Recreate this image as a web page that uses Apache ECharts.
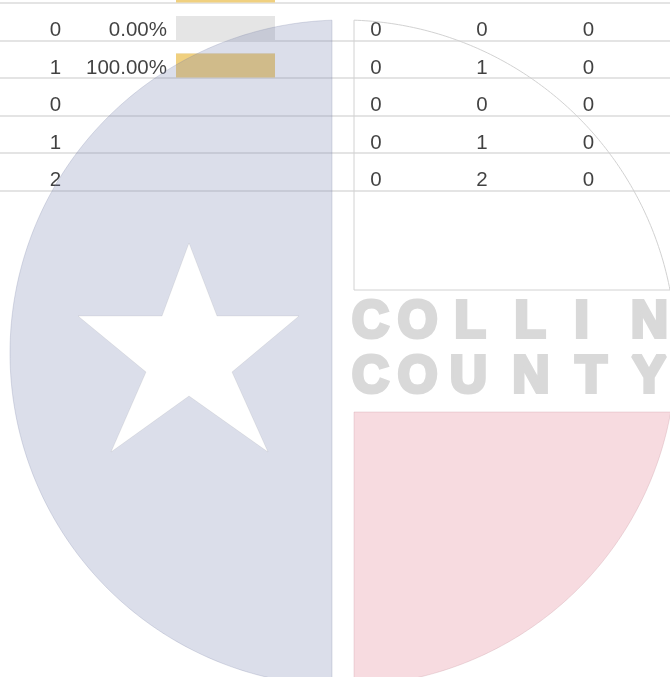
<!DOCTYPE html>
<html><head><meta charset="utf-8">
<script src="https://cdn.jsdelivr.net/npm/echarts/dist/echarts.min.js"></script>
<style>html,body{margin:0;padding:0;background:#fff}#c{width:670px;height:677px}</style>
</head><body><div id="c"></div>
<script>
// ---- data ----
// row 0 is the partially visible row cut off at the top edge
const rowIndex = [1, 2, 3, 4, 5];
const colA = [0, 1, 0, 1, 2];
const pctText = ['0.00%', '100.00%'];
const barRows = [0, 1, 2];
const barShares = [100, 0, 100];
const colC = [0, 0, 0, 0, 0];
const colD = [0, 1, 0, 1, 2];
const colE = [0, 0, 0, 0, 0];
const wordTop = ['C', 'O', 'L', 'L', 'I', 'N'];
const wordBottom = ['C', 'O', 'U', 'N', 'T', 'Y'];

// ---- layout ----
const H = 677, ROW = 37.5;
const span = H / ROW;
const textMin = 0.1866, barMin = 0.2533;
const colX = { A: 55.5, B: 167, C: 376, D: 482, E: 588.5 };
const textColor = '#111111';
const fam = '"Liberation Sans", Arial, Helvetica, sans-serif';
const fs = 20.5;

function textSeries(vals, x, pos) {
  return {
    type: 'scatter', xAxisIndex: 1, yAxisIndex: 1, symbolSize: 0, silent: true,
    data: vals.map((v, i) => [x, rowIndex[i], v]),
    label: { show: true, position: pos, distance: 0, formatter: p => String(p.value[2]),
      color: textColor, fontSize: fs, fontFamily: fam }
  };
}

// ---- watermark geometry ----
const cx = 343, cy = 353, R = 333;
const deg = Math.PI / 180;
function arc(t0, t1, n) {
  const pts = [];
  for (let i = 0; i <= n; i++) {
    const t = (t0 + (t1 - t0) * i / n) * deg;
    pts.push([cx + R * Math.cos(t), cy + R * Math.sin(t)]);
  }
  return pts;
}
const tL = Math.acos(-11 / R) / deg;
const leftPts = arc(tL, 360 - tL, 200);
const tR = Math.acos(11 / R) / deg;
const tTopEnd = Math.asin((290 - cy) / R) / deg;
const topRightPts = [[354, 290]].concat(arc(-tR, tTopEnd, 120));
const tPinkStart = Math.asin((412 - cy) / R) / deg;
const pinkPts = [[354, 412]].concat(arc(tPinkStart, tR, 120));
const starPts = [[189,243],[217,316],[299,316],[232,372],[268,452],[189,396],[111,452],[146,372],[78,316],[162,316]];
const topX = [370.5, 417.5, 470, 530, 581.5, 649.5];
const botX = [370.5, 417.5, 468.5, 531, 591, 649];

const graphics = [
  { type: 'polygon', z: 100, silent: true, shape: { points: leftPts },
    style: { fill: 'rgba(110,123,172,0.25)', stroke: 'rgba(120,128,165,0.25)', lineWidth: 1 } },
  { type: 'polygon', z: 101, silent: true, shape: { points: starPts },
    style: { fill: '#ffffff', stroke: 'rgba(0,0,0,0.06)', lineWidth: 1 } },
  { type: 'polygon', z: 100, silent: true, shape: { points: topRightPts },
    style: { fill: 'rgba(0,0,0,0)', stroke: '#d2d2d2', lineWidth: 1 } },
  { type: 'polygon', z: 100, silent: true, shape: { points: pinkPts },
    style: { fill: 'rgba(223,111,131,0.25)', stroke: 'rgba(200,150,160,0.3)', lineWidth: 1 } }
];
function letter(ch, x, y) {
  return { type: 'text', z: 100, silent: true, x: x, y: y,
    style: { text: ch, fill: '#d9d9d9', stroke: '#d9d9d9', lineWidth: 4, lineJoin: 'miter', fontSize: 51, fontWeight: 'bold',
      fontFamily: fam, textAlign: 'center', textVerticalAlign: 'middle' } };
}
wordTop.forEach((ch, i) => graphics.push(letter(ch, topX[i], 323)));
wordBottom.forEach((ch, i) => graphics.push(letter(ch, botX[i], 377.5)));

const chart = echarts.init(document.getElementById('c'), null, { renderer: 'canvas' });
chart.setOption({
  animation: false,
  backgroundColor: '#ffffff',
  grid: [
    { left: 0, right: 0, top: 3, height: 5 * ROW },
    { left: 0, right: 0, top: 0, bottom: 0 },
    { left: 176, width: 99, top: 0, bottom: 0 }
  ],
  xAxis: [
    { gridIndex: 0, type: 'value', min: 0, max: 1, show: false },
    { gridIndex: 1, type: 'value', min: 0, max: 670, show: false },
    { gridIndex: 2, type: 'value', min: 0, max: 100, show: false }
  ],
  yAxis: [
    { gridIndex: 0, type: 'value', min: 0, max: 5, interval: 1, inverse: true,
      axisLine: { show: false }, axisTick: { show: false }, axisLabel: { show: false },
      splitLine: { show: true, showMinLine: true, showMaxLine: true, lineStyle: { color: '#e4e4e4', width: 2 } } },
    { gridIndex: 1, type: 'value', min: textMin, max: textMin + span, inverse: true, show: false },
    { gridIndex: 2, type: 'value', min: barMin, max: barMin + span, inverse: true, show: false }
  ],
  series: [
    {
      type: 'custom', xAxisIndex: 2, yAxisIndex: 2, silent: true, clip: false,
      data: barShares.map((s, i) => [s, barRows[i]]),
      encode: { x: 0, y: 1 },
      renderItem: function (params, api) {
        const share = api.value(0), row = api.value(1);
        const p0 = api.coord([0, row]), p1 = api.coord([100, row]), ps = api.coord([share, row]);
        const h = api.size([0, 0.64])[1];
        return { type: 'group', children: [
          { type: 'rect', shape: { x: p0[0], y: p0[1] - h / 2, width: p1[0] - p0[0], height: h }, style: { fill: '#e5e5e5' } },
          { type: 'rect', shape: { x: p0[0], y: p0[1] - h / 2, width: ps[0] - p0[0], height: h }, style: { fill: '#f0d07f' } }
        ] };
      }
    },
    textSeries(colA, colX.A, 'inside'),
    {
      type: 'scatter', xAxisIndex: 1, yAxisIndex: 1, symbolSize: 0, silent: true,
      data: pctText.map((v, i) => [colX.B, rowIndex[i], v]),
      label: { show: true, position: 'left', distance: 0, formatter: p => String(p.value[2]),
        color: textColor, fontSize: fs, fontFamily: fam }
    },
    textSeries(colC, colX.C, 'inside'),
    textSeries(colD, colX.D, 'inside'),
    textSeries(colE, colX.E, 'inside')
  ],
  graphic: graphics
});
</script>
</body></html>
